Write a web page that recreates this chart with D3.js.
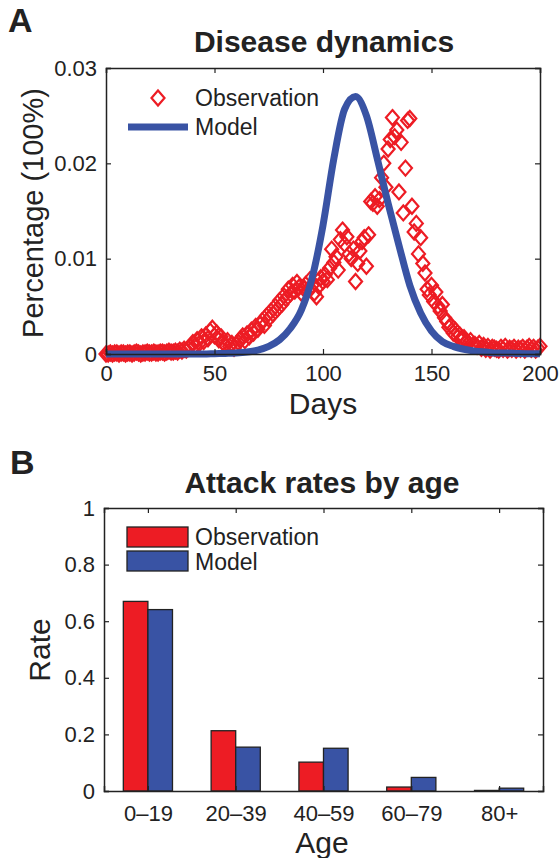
<!DOCTYPE html>
<meta charset="utf-8">
<style>
body { margin: 0; background: #fff; }
svg { font-family: "Liberation Sans", Arial, Helvetica, sans-serif; }
</style>
<svg width="559" height="858"></svg>
<script src="https://cdn.jsdelivr.net/npm/d3@7"></script>
<script>

// ---- data: panel A ----
// observed daily prevalence, day 0..200
var obsValues = [0,
  0,0.0001,0,0.0001,0.0001,0,0.0001,0.0001,0,0.0001,
  0.0001,0,0.0001,0.0002,0.0001,0,0.0001,0.0001,0.0002,0.0001,
  0.0001,0.0002,0.0001,0.0001,0.0002,0.0002,0.0001,0.0002,0.0003,0.0002,
  0.0002,0.0003,0.0002,0.0004,0.0003,0.0005,0.0004,0.0006,0.0008,0.0012,
  0.0009,0.0015,0.0011,0.0018,0.0013,0.0020,0.0016,0.0024,0.0027,0.0019,
  0.0022,0.0015,0.0018,0.0012,0.0009,0.0014,0.0008,0.0011,0.0006,0.0010,
  0.0012,0.0016,0.0019,0.0014,0.0021,0.0018,0.0025,0.0022,0.0029,0.0026,
  0.0031,0.0035,0.0030,0.0040,0.0037,0.0045,0.0042,0.0050,0.0047,0.0056,
  0.0052,0.0061,0.0058,0.0068,0.0063,0.0072,0.0066,0.0075,0.0070,0.0064,
  0.0069,0.0073,0.0067,0.0078,0.0072,0.0064,0.0060,0.0071,0.0080,0.0076,
  0.0083,0.0078,0.0090,0.0110,0.0096,0.0102,0.0088,0.0120,0.0130,0.0115,
  0.0123,0.0105,0.0100,0.0110,0.0076,0.0095,0.0108,0.0118,0.0122,0.0092,
  0.0125,0.0160,0.0158,0.0165,0.0155,0.0162,0.0185,0.0200,0.0175,0.0215,
  0.0225,0.0248,0.0228,0.0235,0.0170,0.0222,0.0148,0.0195,0.0245,0.0247,
  0.0155,0.0128,0.0137,0.0105,0.0122,0.0095,0.0085,0.0068,0.0062,0.0072,
  0.0055,0.0065,0.0050,0.0045,0.0052,0.0038,0.0034,0.0028,0.0030,0.0022,
  0.0025,0.0018,0.0020,0.0015,0.0017,0.0013,0.0011,0.0014,0.0009,0.0010,
  0.0008,0.0011,0.0006,0.0009,0.0005,0.0008,0.0004,0.0007,0.0006,0.0005,
  0.0004,0.0007,0.0005,0.0008,0.0004,0.0006,0.0005,0.0007,0.0004,0.0006,
  0.0005,0.0007,0.0004,0.0006,0.0008,0.0005,0.0007,0.0004,0.0006,0.0008];

// model curve sampled every 5 days
var modelDays = [0,5,10,15,20,25,30,35,40,45,50,55,60,65,70,75,80,85,90,95,100,
  105,110,115,120,125,130,135,140,145,150,155,160,165,170,175,180,185,190,195,200];
var modelValues = [0,0,0,0,0,0,0,0,0,0,0.00003,0.00006,0.0001,0.0002,0.0004,0.0008,0.0015,0.0027,0.0046,0.0080,0.0135,
  0.0205,0.0257,0.0270,0.0250,0.0205,0.0158,0.0114,0.0072,0.0043,0.0024,0.0013,0.0008,0.0005,0.0003,0.0002,0.0001,0.0001,0.00005,0.00003,0.00002];

var xTicksA = [0, 50, 100, 150, 200];
var yTicksA = [0, 0.01, 0.02, 0.03];

// ---- data: panel B ----
var ageGroups = ["0\u201319", "20\u201339", "40\u201359", "60\u201379", "80+"];
var obsRates = [0.67, 0.213, 0.102, 0.014, 0.002];
var modelRates = [0.641, 0.155, 0.151, 0.048, 0.01];
var yTicksB = [0, 0.2, 0.4, 0.6, 0.8, 1];

var red = "#ed1c24", blue = "#3953a4", ink = "#222";

var svg = d3.select("svg");

// box with inward ticks on all four sides
function boxAxes(g, x, y, xt, yt, xfmt, yfmt, xpad) {
  var x0 = x.range()[0], x1 = x.range()[1], y0 = y.range()[0], y1 = y.range()[1];
  g.append("g").attr("transform", "translate(0," + y0 + ")")
    .call(d3.axisBottom(x).tickValues(xt).tickSize(-5).tickPadding(xpad).tickFormat(xfmt));
  g.append("g").attr("transform", "translate(0," + y1 + ")")
    .call(d3.axisTop(x).tickValues(xt).tickSize(-5).tickFormat(""));
  g.append("g").attr("transform", "translate(" + x0 + ",0)")
    .call(d3.axisLeft(y).tickValues(yt).tickSize(-5).tickPadding(9).tickFormat(yfmt));
  g.append("g").attr("transform", "translate(" + x1 + ",0)")
    .call(d3.axisRight(y).tickValues(yt).tickSize(-5).tickFormat(""));
  g.selectAll(".domain").attr("stroke", ink).attr("stroke-width", 1.5);
  g.selectAll(".tick line").attr("stroke", ink).attr("stroke-width", 1.2);
  g.selectAll(".tick text").attr("font-size", 22).attr("fill", ink)
    .attr("font-family", "'Liberation Sans', Arial, sans-serif");
}

function diamond(cx, cy) {
  var w = 6.5, h = 7.5;
  return "M" + cx + "," + (cy - h) + "L" + (cx + w) + "," + cy + "L" + cx + "," + (cy + h) + "L" + (cx - w) + "," + cy + "Z";
}

// ================= PANEL A =================
var xA = d3.scaleLinear().domain([0, 200]).range([106, 540]);
var yA = d3.scaleLinear().domain([0, 0.03]).range([354, 68]);

var gA = svg.append("g");

gA.append("g").selectAll("path")
  .data(obsValues)
  .enter().append("path")
  .attr("d", function(d, i) { return diamond(xA(i), yA(d)); })
  .attr("fill", "none")
  .attr("stroke", red)
  .attr("stroke-width", 2.2);

gA.append("path")
  .datum(modelDays.map(function(d, i) { return [d, modelValues[i]]; }))
  .attr("fill", "none")
  .attr("stroke", blue)
  .attr("stroke-width", 7)
  .attr("d", d3.line().x(function(d) { return xA(d[0]); }).y(function(d) { return yA(d[1]); }).curve(d3.curveMonotoneX));

boxAxes(gA, xA, yA, xTicksA, yTicksA, d3.format("d"),
  function(d) { return d === 0 ? "0" : d3.format(".2f")(d); }, 11);

// legend A
gA.append("path").attr("d", diamond(158, 98)).attr("fill", "none").attr("stroke", red).attr("stroke-width", 2.2);
gA.append("line").attr("x1", 128).attr("x2", 188).attr("y1", 127).attr("y2", 127)
  .attr("stroke", blue).attr("stroke-width", 7);
gA.append("text").attr("x", 195).attr("y", 106).attr("font-size", 23).attr("fill", ink).text("Observation");
gA.append("text").attr("x", 195).attr("y", 135).attr("font-size", 23).attr("fill", ink).text("Model");

// labels A
svg.append("text").attr("x", 8).attr("y", 32).attr("font-size", 34).attr("font-weight", "bold").attr("fill", ink).text("A");
svg.append("text").attr("x", 324).attr("y", 52).attr("text-anchor", "middle").attr("font-size", 30)
  .attr("font-weight", "bold").attr("fill", ink).text("Disease dynamics");
svg.append("text").attr("x", 323).attr("y", 414).attr("text-anchor", "middle").attr("font-size", 30)
  .attr("fill", ink).text("Days");
svg.append("text").attr("transform", "translate(43,213) rotate(-90)").attr("text-anchor", "middle")
  .attr("font-size", 29).attr("fill", ink).text("Percentage (100%)");

// ================= PANEL B =================
var xB = d3.scaleLinear().domain([0.5, 5.5]).range([104, 543]);
var yB = d3.scaleLinear().domain([0, 1]).range([791, 508]);
var barW = 0.28;

var gB = svg.append("g");

var groups = gB.append("g").selectAll("g")
  .data(ageGroups)
  .enter().append("g");

groups.append("rect")
  .attr("x", function(d, i) { return xB(i + 1 - barW); })
  .attr("width", xB(barW) - xB(0))
  .attr("y", function(d, i) { return yB(obsRates[i]); })
  .attr("height", function(d, i) { return yB(0) - yB(obsRates[i]); })
  .attr("fill", red).attr("stroke", ink).attr("stroke-width", 1.3);

groups.append("rect")
  .attr("x", function(d, i) { return xB(i + 1); })
  .attr("width", xB(barW) - xB(0))
  .attr("y", function(d, i) { return yB(modelRates[i]); })
  .attr("height", function(d, i) { return yB(0) - yB(modelRates[i]); })
  .attr("fill", blue).attr("stroke", ink).attr("stroke-width", 1.3);

boxAxes(gB, xB, yB, [1, 2, 3, 4, 5], yTicksB,
  function(d) { return ageGroups[d - 1]; },
  function(d) { return d === 0 || d === 1 ? String(d) : d3.format(".1f")(d); }, 14);

// legend B
gB.append("rect").attr("x", 127).attr("y", 527).attr("width", 61).attr("height", 20)
  .attr("fill", red).attr("stroke", ink).attr("stroke-width", 1.3);
gB.append("rect").attr("x", 127).attr("y", 551).attr("width", 61).attr("height", 20)
  .attr("fill", blue).attr("stroke", ink).attr("stroke-width", 1.3);
gB.append("text").attr("x", 195).attr("y", 545).attr("font-size", 23).attr("fill", ink).text("Observation");
gB.append("text").attr("x", 195).attr("y", 570).attr("font-size", 23).attr("fill", ink).text("Model");

svg.append("text").attr("x", 10).attr("y", 474).attr("font-size", 34).attr("font-weight", "bold").attr("fill", ink).text("B");
svg.append("text").attr("x", 322).attr("y", 493).attr("text-anchor", "middle").attr("font-size", 30)
  .attr("font-weight", "bold").attr("fill", ink).text("Attack rates by age");
svg.append("text").attr("x", 322).attr("y", 853).attr("text-anchor", "middle").attr("font-size", 30)
  .attr("fill", ink).text("Age");
svg.append("text").attr("transform", "translate(50,650) rotate(-90)").attr("text-anchor", "middle")
  .attr("font-size", 30).attr("fill", ink).text("Rate");

</script>
